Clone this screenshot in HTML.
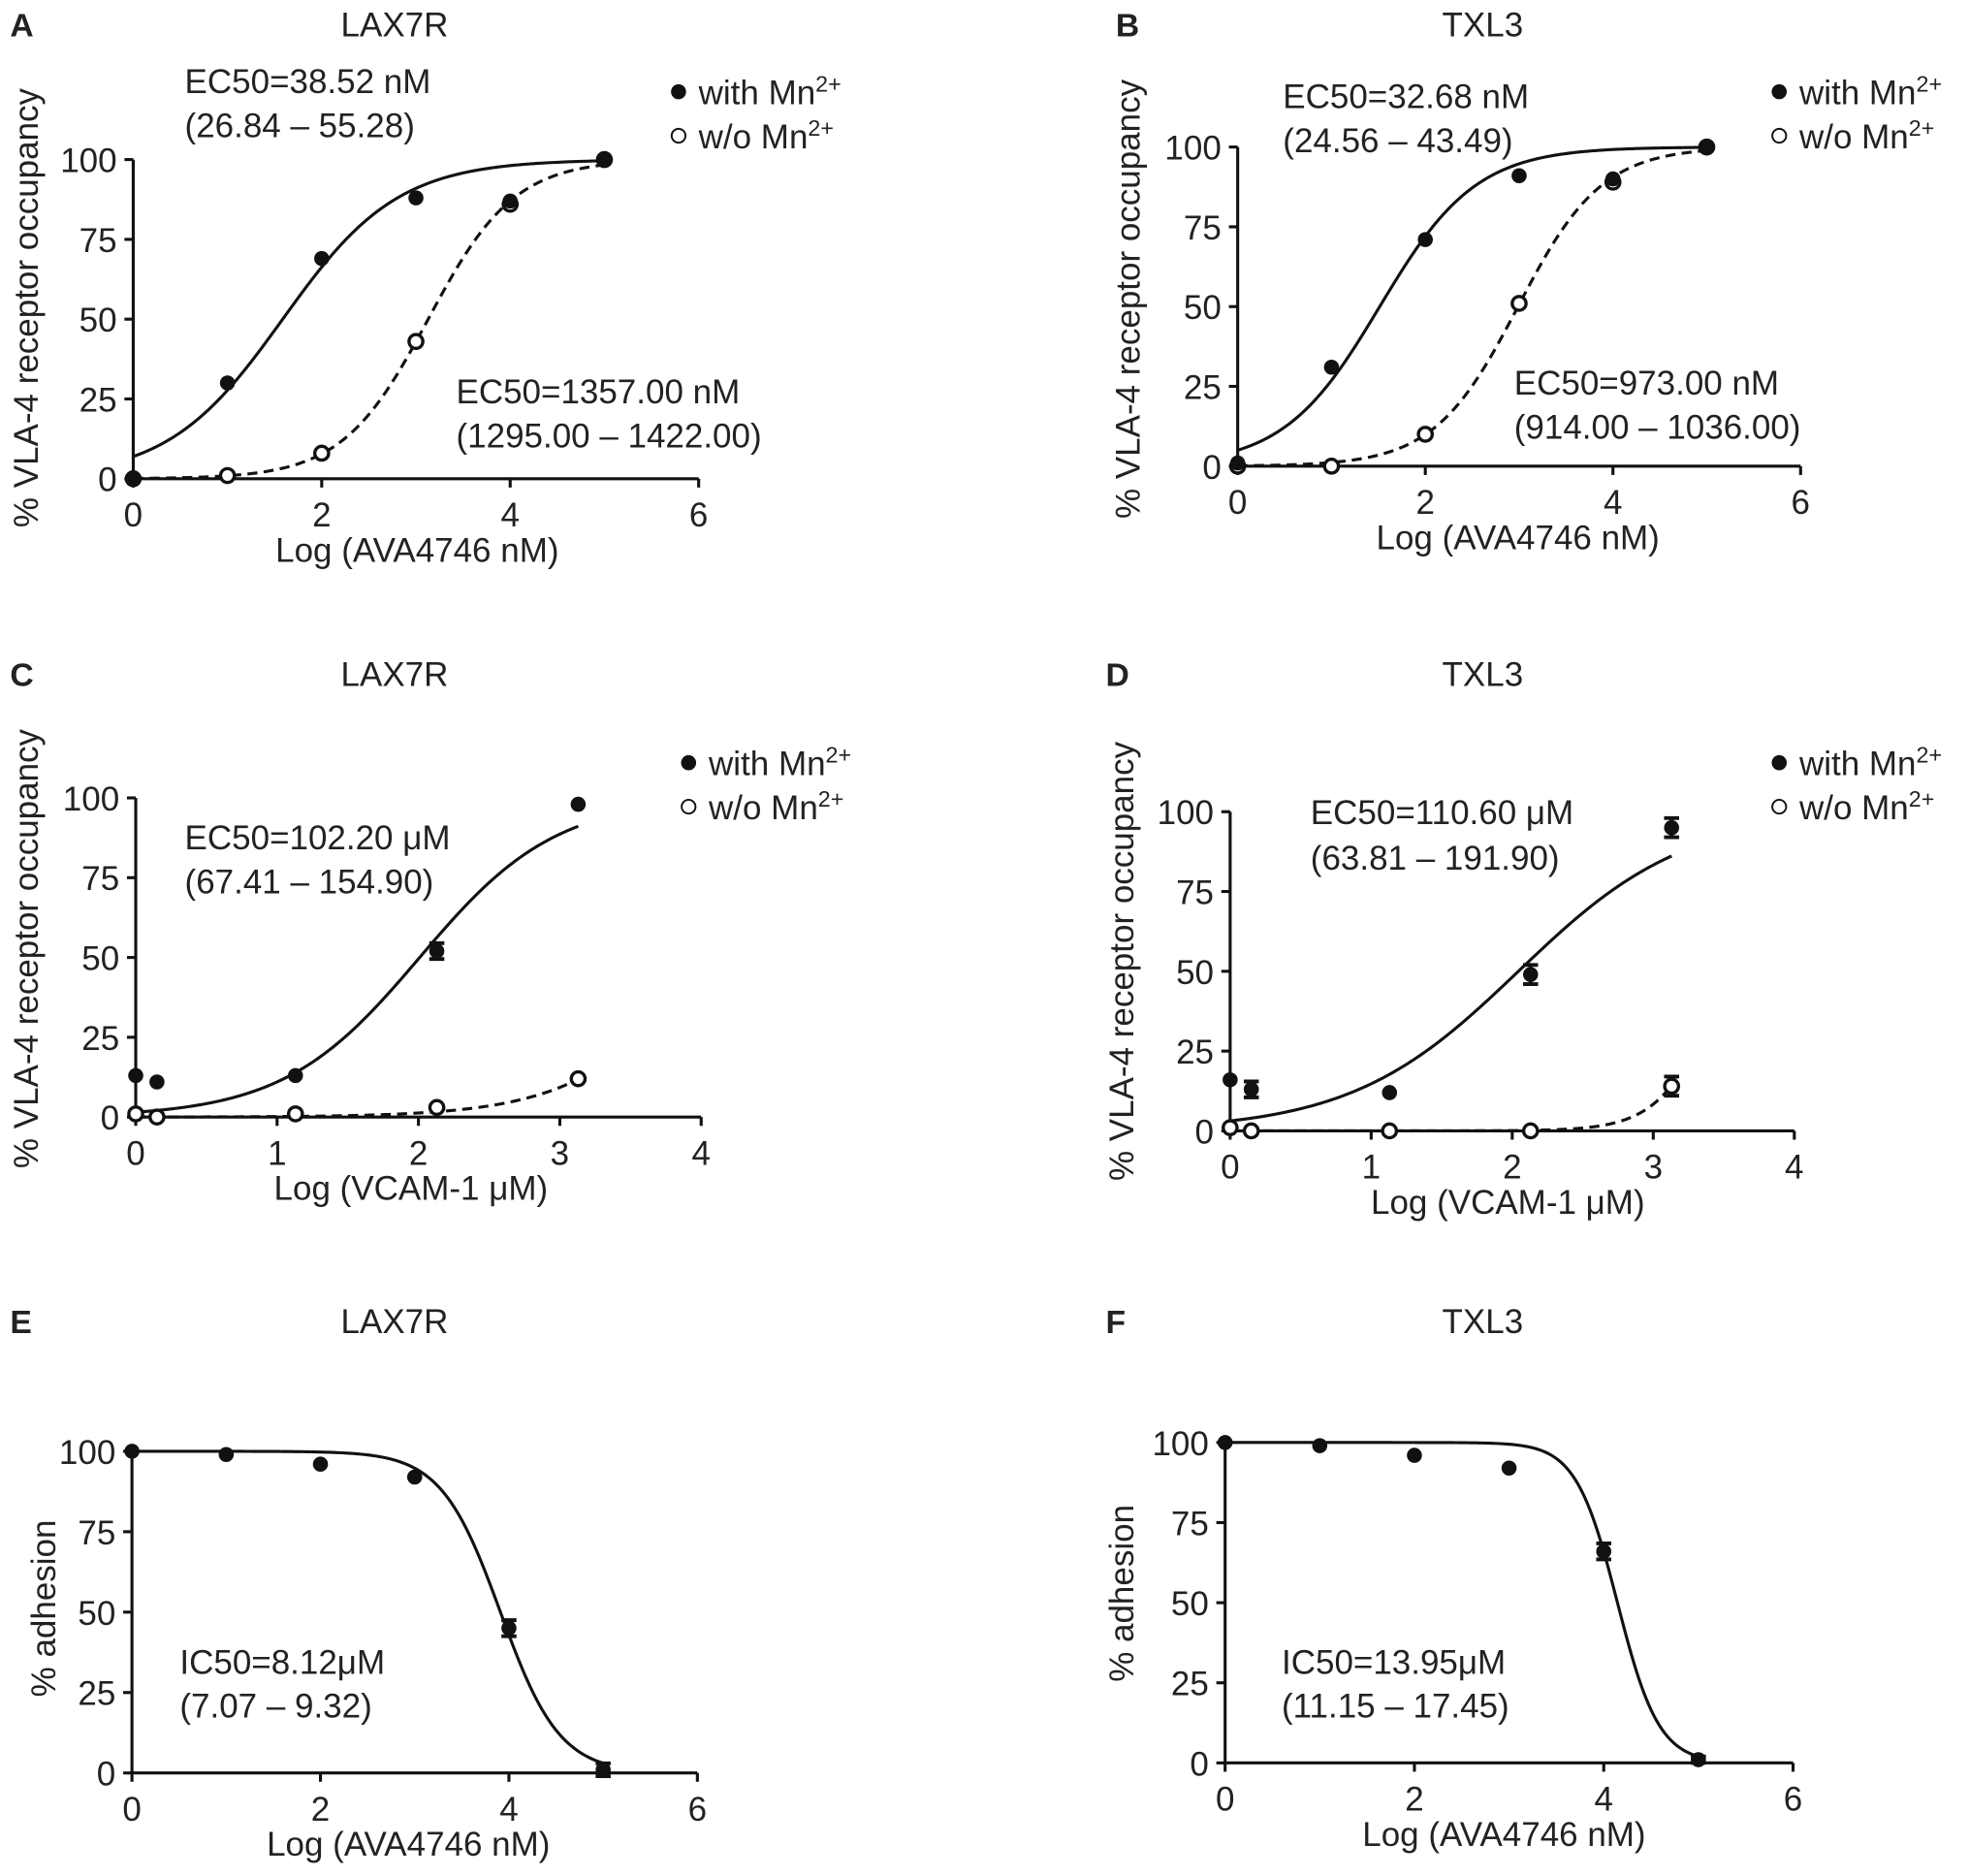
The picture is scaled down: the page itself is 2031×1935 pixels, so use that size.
<!DOCTYPE html>
<html><head><meta charset="utf-8">
<style>
html,body{margin:0;padding:0;background:#fff;}
svg{display:block;}
text{font-family:"Liberation Sans",Arial,sans-serif;fill:#222;}
</style></head>
<body>
<svg id="fig" width="2031" height="1935" viewBox="0 0 1567 1493" xmlns="http://www.w3.org/2000/svg"></svg>
<script>
// ---- data ----
const xA = [0,1,2,3,4,5];
const withA = [0,30,69,88,87,100];
const woA = [0,1,8,43,86,100];
const xB = [0,1,2,3,4,5];
const withB = [1,31,71,91,90,100];
const woB = [0,0,10,51,89,100];
const xC = [0,0.15,1.13,2.13,3.13];
const withC = [13,11,13,52,98];
const withCErr = [0,0,0,2.5,0];
const woC = [1,0,1,3,12];
const xD = [0,0.15,1.13,2.13,3.13];
const withD = [16,13,12,49,95];
const withDErr = [0,2.5,0,3,3];
const woD = [1,0,0,0,14];
const woDErr = [0,0,0,0,3];
const xE = [0,1,2,3,4,5];
const adhE = [100,99,96,92,45,1];
const adhEErr = [0,0,0,0,2.5,2];
const xF = [0,1,2,3,4,5];
const adhF = [100,99,96,92,66,1];
const adhFErr = [0,0,0,0,2.5,1];
const ticksY = [0,25,50,75,100];
const ticksX6 = [0,2,4,6];
const ticksX4 = [0,1,2,3,4];
// fit params [logEC50, hill]
const fitWithA=[1.586,0.71], fitWoA=[3.13,0.95];
const fitWithB=[1.514,0.845], fitWoB=[2.988,0.97];
const fitWithC=[2.0086,0.9], fitWoC=[4.1,0.9];
const fitWithD=[2.0438,0.73], fitWoD=[3.52,2.0];
const fitE=[3.91,1.38], fitF=[4.145,1.98];

const NS="http://www.w3.org/2000/svg";
const svg=document.getElementById('fig');
function el(tag,attrs,parent){const e=document.createElementNS(NS,tag);for(const k in attrs)e.setAttribute(k,attrs[k]);(parent||svg).appendChild(e);return e;}
function txt(s,attrs,parent){const e=el('text',attrs,parent);e.textContent=s;return e;}

function panel(cfg){
  const g=el('g',{});
  
  
  const sx=v=>cfg.x0+(v-0)*(cfg.x1-cfg.x0)/cfg.xmax;
  const sy=v=>cfg.y0+(v)*(cfg.y100-cfg.y0)/100;
  let t=txt(cfg.letter,{x:cfg.lx,y:cfg.ty,'font-size':26,'font-weight':'bold'},g);
  
  
  t=txt(cfg.title,{x:cfg.tx,y:cfg.ty,'font-size':27,'text-anchor':'middle'},g);
  
  
  let a=el('path',{d:`M${cfg.x0},${sy(100)}V${cfg.y0}H${cfg.x1}`,stroke:'#111','stroke-width':2.4,fill:'none'},g);
  
  
  ticksY.forEach(v=>{
    el('line',{x1:cfg.x0-7,x2:cfg.x0,y1:sy(v),y2:sy(v),stroke:'#111','stroke-width':2.4},g);
    const l=txt(String(v),{x:cfg.x0-13,y:sy(v)+10,'font-size':27,'text-anchor':'end'},g);
    
    
  });
  cfg.xt.forEach(v=>{
    el('line',{x1:sx(v),x2:sx(v),y1:cfg.y0,y2:cfg.y0+7,stroke:'#111','stroke-width':2.4},g);
    const l=txt(String(v),{x:sx(v),y:cfg.y0+38,'font-size':27,'text-anchor':'middle'},g);
    
    
  });
  t=txt(cfg.xlabel,{x:cfg.xlx,y:cfg.y0+66,'font-size':27,'text-anchor':'middle'},g);
  
  
  t=txt(cfg.ylabel,{x:0,y:0,'font-size':27,'text-anchor':'middle',transform:`translate(${cfg.ylx},${cfg.yly}) rotate(-90)`},g);
  
  
  cfg.notes.forEach(n=>{
    const a1=txt(n[0],{x:n[1],y:n[2],'font-size':27},g);
    
    
  });
  cfg.curves.forEach(c=>{
    const [ec,h]=c.fit;let d='';
    for(let i=0;i<=200;i++){const x=c.from+(c.to-c.from)*i/200;
      let y=100/(1+Math.pow(10,(ec-x)*h*c.dir));
      d+=(i?'L':'M')+sx(x).toFixed(2)+','+sy(y).toFixed(2);}
    const p=el('path',{d:d,stroke:'#111','stroke-width':2.4,fill:'none','stroke-dasharray':c.dash?'8,5':'none'},g);
    
    
  });
  cfg.series.forEach(s=>{
    s.xs.forEach((x,i)=>{
      const y=s.ys[i];const e=s.err?s.err[i]:0;
      if(e>0){
        const eb=el('path',{d:`M${sx(x)},${sy(y-e)}V${sy(y+e)}M${sx(x)-6},${sy(y-e)}h12M${sx(x)-6},${sy(y+e)}h12`,stroke:'#111','stroke-width':3,fill:'none'},g);
        
        
      }
      const c=el('circle',{cx:sx(x),cy:sy(y),r:s.open?5.5:6,fill:s.open?'#fff':'#111',stroke:'#111','stroke-width':s.open?2.6:0},g);
      
      
    });
  });
  if(cfg.leg){
    const [lx,ly]=cfg.leg;
    el('circle',{cx:lx,cy:ly,r:6,fill:'#111'},g);
    el('circle',{cx:lx,cy:ly+35,r:5.5,fill:'#fff',stroke:'#111','stroke-width':1.5},g);
    const l1=txt('',{x:lx+16,y:ly+10,'font-size':27},g);
    l1.innerHTML='with Mn<tspan font-size="18" dy="-10">2+</tspan>';
    
    
    const l2=txt('',{x:lx+16,y:ly+45,'font-size':27},g);
    l2.innerHTML='w/o Mn<tspan font-size="18" dy="-10">2+</tspan>';
    
    
  }
}
const occ='% VLA-4 receptor occupancy';
panel({letter:'A',lx:8,title:'LAX7R',tx:314,ty:29,x0:106,x1:556,xmax:6,y0:381,y100:127,xt:ticksX6,
  xlabel:'Log (AVA4746 nM)',xlx:332,ylabel:occ,ylx:30,yly:245,
  notes:[['EC50=38.52 nM',147,74],['(26.84 – 55.28)',147,109],['EC50=1357.00 nM',363,321],['(1295.00 – 1422.00)',363,356]],
  curves:[{fit:fitWithA,from:0,to:5,dir:1,name:'fit-curve-with-mn'},{fit:fitWoA,from:0,to:5,dir:1,dash:1,name:'fit-curve-without-mn'}],
  series:[{xs:xA,ys:woA,open:1,name:'point-without-mn'},{xs:xA,ys:withA,name:'point-with-mn'}],leg:[540,73]});
panel({letter:'B',lx:888,title:'TXL3',tx:1180,ty:29,x0:985,x1:1433,xmax:6,y0:371,y100:117,xt:ticksX6,
  xlabel:'Log (AVA4746 nM)',xlx:1208,ylabel:occ,ylx:907,yly:238,
  notes:[['EC50=32.68 nM',1021,86],['(24.56 – 43.49)',1021,121],['EC50=973.00 nM',1205,314],['(914.00 – 1036.00)',1205,349]],
  curves:[{fit:fitWithB,from:0,to:5,dir:1,name:'fit-curve-with-mn'},{fit:fitWoB,from:0,to:5,dir:1,dash:1,name:'fit-curve-without-mn'}],
  series:[{xs:xB,ys:woB,open:1,name:'point-without-mn'},{xs:xB,ys:withB,name:'point-with-mn'}],leg:[1416,73]});
panel({letter:'C',lx:8,title:'LAX7R',tx:314,ty:546,x0:108,x1:558,xmax:4,y0:889,y100:635,xt:ticksX4,
  xlabel:'Log (VCAM-1 μM)',xlx:327,ylabel:occ,ylx:30,yly:755,
  notes:[['EC50=102.20 μM',147,676],['(67.41 – 154.90)',147,711]],
  curves:[{fit:fitWithC,from:0,to:3.13,dir:1,name:'fit-curve-with-mn'},{fit:fitWoC,from:0,to:3.13,dir:1,dash:1,name:'fit-curve-without-mn'}],
  series:[{xs:xC,ys:woC,open:1,name:'point-without-mn'},{xs:xC,ys:withC,err:withCErr,name:'point-with-mn'}],leg:[548,607]});
panel({letter:'D',lx:880,title:'TXL3',tx:1180,ty:546,x0:979,x1:1428,xmax:4,y0:900,y100:646,xt:ticksX4,
  xlabel:'Log (VCAM-1 μM)',xlx:1200,ylabel:occ,ylx:902,yly:765,
  notes:[['EC50=110.60 μM',1043,656],['(63.81 – 191.90)',1043,692]],
  curves:[{fit:fitWithD,from:0,to:3.13,dir:1,name:'fit-curve-with-mn'},{fit:fitWoD,from:0,to:3.13,dir:1,dash:1,name:'fit-curve-without-mn'}],
  series:[{xs:xD,ys:woD,err:woDErr,open:1,name:'point-without-mn'},{xs:xD,ys:withD,err:withDErr,name:'point-with-mn'}],leg:[1416,607]});
panel({letter:'E',lx:8,title:'LAX7R',tx:314,ty:1061,x0:105,x1:555,xmax:6,y0:1411,y100:1155,xt:ticksX6,
  xlabel:'Log (AVA4746 nM)',xlx:325,ylabel:'% adhesion',ylx:44,yly:1280,
  notes:[['IC50=8.12μM',143,1332],['(7.07 – 9.32)',143,1367]],
  curves:[{fit:fitE,from:0,to:5,dir:-1,name:'fit-curve-adhesion'}],
  series:[{xs:xE,ys:adhE,err:adhEErr,name:'point-adhesion'}]});
panel({letter:'F',lx:880,title:'TXL3',tx:1180,ty:1061,x0:975,x1:1427,xmax:6,y0:1403,y100:1148,xt:ticksX6,
  xlabel:'Log (AVA4746 nM)',xlx:1197,ylabel:'% adhesion',ylx:902,yly:1268,
  notes:[['IC50=13.95μM',1020,1332],['(11.15 – 17.45)',1020,1367]],
  curves:[{fit:fitF,from:0,to:5,dir:-1,name:'fit-curve-adhesion'}],
  series:[{xs:xF,ys:adhF,err:adhFErr,name:'point-adhesion'}]});
</script>
</body></html>
